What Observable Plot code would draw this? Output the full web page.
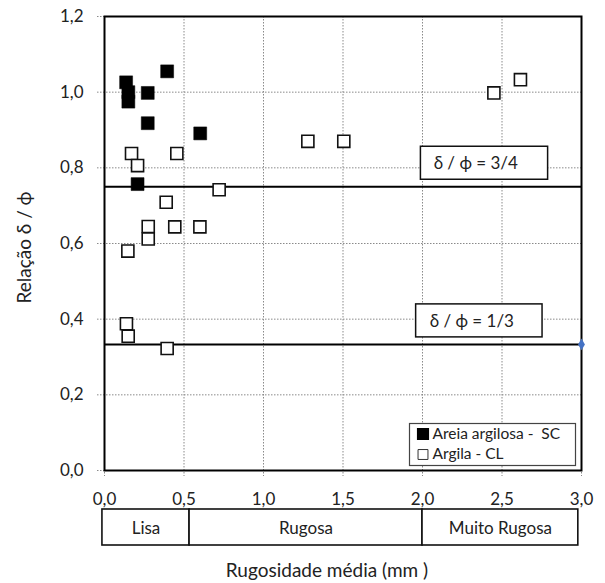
<!DOCTYPE html>
<html>
<head>
<meta charset="utf-8">
<script src="https://cdn.jsdelivr.net/npm/d3@7"></script>
<script src="https://cdn.jsdelivr.net/npm/@observablehq/plot@0.6"></script>
<style>
  html, body { margin: 0; padding: 0; background: #fff; }
  #chart svg { font-family: Lato, "Open Sans", sans-serif; }
</style>
</head>
<body>
<div id="chart"></div>
<script>
// Areia argilosa - SC (filled squares)
const scX = [0.136, 0.150, 0.150, 0.394, 0.272, 0.272, 0.602, 0.208];
const scY = [1.026, 1.000, 0.975, 1.055, 0.998, 0.918, 0.891, 0.757];
// Argila - CL (open squares)
const clX = [0.170, 0.208, 0.455, 0.721, 0.388, 0.275, 0.275, 0.442, 0.600, 0.147, 1.279, 1.505, 2.449, 2.616, 0.138, 0.149, 0.394];
const clY = [0.838, 0.806, 0.838, 0.742, 0.709, 0.645, 0.612, 0.644, 0.644, 0.580, 0.870, 0.870, 0.998, 1.033, 0.388, 0.355, 0.3225];
// extra marker (blue diamond)
const markX = [3.0];
const markY = [1 / 3];
// ticks
const xTicks = [0, 0.5, 1, 1.5, 2, 2.5, 3];
const yTicks = [0, 0.2, 0.4, 0.6, 0.8, 1.0, 1.2];
// reference lines
const refValues = [0.75, 1 / 3];
const refLabels = ["δ / ϕ = 3/4", "δ / ϕ = 1/3"];
// roughness classes
const classNames = ["Lisa", "Rugosa", "Muito Rugosa"];
const classStart = [-0.013, 0.535, 2.0];
const classEnd = [0.535, 2.0, 2.98];
// legend
const seriesNames = ["Areia argilosa -  SC", "Argila - CL"];

const sc = scX.map((x, i) => ({x, y: scY[i]}));
const cl = clX.map((x, i) => ({x, y: clY[i]}));
const mk = markX.map((x, i) => ({x, y: markY[i]}));
const refs = refValues.map((v, i) => ({value: v, label: refLabels[i], i}));
const classes = classNames.map((n, i) => ({name: n, start: classStart[i], end: classEnd[i]}));

const fmt = d => d.toFixed(1).replace(".", ",");
const refBoxX1 = [1.99, 1.96], refBoxX2 = [2.79, 2.755], refTextX = [2.335, 2.31];

const chart = Plot.plot({
  width: 605,
  height: 583,
  marginLeft: 104,
  marginRight: 24,
  marginTop: 16,
  marginBottom: 113,
  style: {fontFamily: "Lato, 'Open Sans', sans-serif", background: "white", color: "#222"},
  x: {domain: [0, 3]},
  y: {domain: [0, 1.2]},
  marks: [
    Plot.gridX(xTicks, {stroke: "#8a8a8a", strokeOpacity: 1, strokeWidth: 1, strokeDasharray: "1.5,1.5", insetBottom: -6}),
    Plot.gridY(yTicks, {stroke: "#8a8a8a", strokeOpacity: 1, strokeWidth: 1, strokeDasharray: "1.5,1.5", insetLeft: -7}),
    Plot.axisX(xTicks, {tickSize: 0, tickPadding: 22, tickFormat: fmt, fontSize: 17, label: null, fill: "#222"}),
    Plot.axisY(yTicks, {tickSize: 0, tickPadding: 21, tickFormat: fmt, fontSize: 17, label: null, fill: "#222"}),
    Plot.ruleY(refValues, {stroke: "black", strokeWidth: 2}),
    Plot.frame({stroke: "black", strokeWidth: 2}),
    // reference label boxes
    Plot.rect(refs, {x1: d => refBoxX1[d.i], x2: d => refBoxX2[d.i], y1: "value", y2: "value", insetTop: -40, insetBottom: 7, fill: "white", stroke: "#111", strokeWidth: 1.5}),
    Plot.text(refs, {x: d => refTextX[d.i], y: "value", dy: -23, text: "label", fontSize: 17, fill: "#222"}),
    // data
    Plot.dot(cl, {x: "x", y: "y", symbol: "square", r: 6.8, fill: "white", stroke: "#111", strokeWidth: 1.6}),
    Plot.dot(sc, {x: "x", y: "y", symbol: "square", r: 7.3, fill: "black", stroke: "black", strokeWidth: 0.5}),
    Plot.dot(mk, {x: "x", y: "y", symbol: "diamond", r: 3.6, fill: "#4472C4", stroke: "none"}),
    // legend
    Plot.frame({insetLeft: 305, insetRight: 6, insetTop: 407, insetBottom: 5, fill: "white", stroke: "#444", strokeWidth: 1.2}),
    Plot.dot([seriesNames[0]], {frameAnchor: "bottom-right", dx: -158.5, dy: -36.5, symbol: "square", r: 6, fill: "black", stroke: "black"}),
    Plot.dot([seriesNames[1]], {frameAnchor: "bottom-right", dx: -158.5, dy: -16, symbol: "square", r: 5.6, fill: "white", stroke: "#333", strokeWidth: 1}),
    Plot.text([seriesNames[0]], {frameAnchor: "bottom-right", dx: -149, dy: -36.5, text: d => d, textAnchor: "start", lineAnchor: "middle", fontSize: 15.5, fill: "#222"}),
    Plot.text([seriesNames[1]], {frameAnchor: "bottom-right", dx: -149, dy: -16, text: d => d, textAnchor: "start", lineAnchor: "middle", fontSize: 15.5, fill: "#222"}),
    // roughness class boxes below the axis
    Plot.rect(classes, {x1: "start", x2: "end", y1: 0, y2: 0, insetTop: 39, insetBottom: -75, fill: "white", stroke: "#111", strokeWidth: 1.6}),
    Plot.text(classes, {x: d => (d.start + d.end) / 2, y: 0, dy: 58, text: "name", fontSize: 17, fill: "#222"}),
    // axis titles
    Plot.text(["Rugosidade média (mm )"], {frameAnchor: "bottom", dx: -16, dy: 100, text: d => d, textAnchor: "middle", lineAnchor: "middle", fontSize: 19, fill: "#222"}),
    Plot.text(["Relação δ / ϕ"], {frameAnchor: "left", dx: -80, dy: 4, rotate: -90, text: d => d, textAnchor: "middle", lineAnchor: "middle", fontSize: 19, fill: "#222"})
  ]
});
document.getElementById("chart").appendChild(chart);
</script>
</body>
</html>
